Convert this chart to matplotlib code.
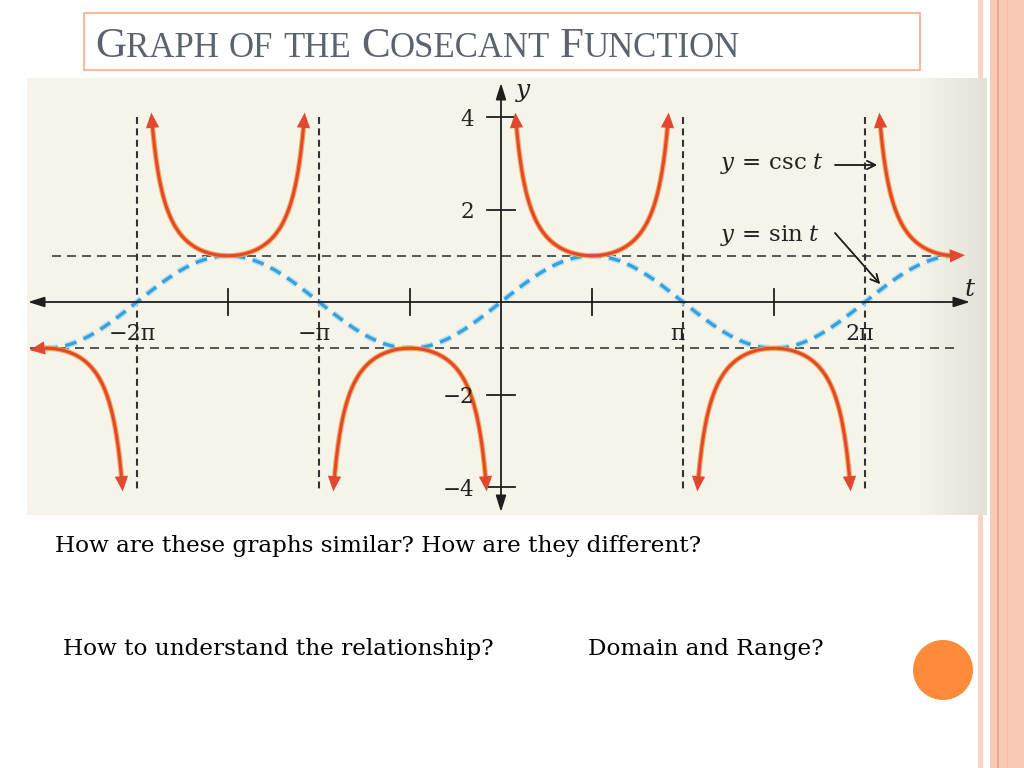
"""Slide: graph of the cosecant function drawn over the sine curve."""

import matplotlib

matplotlib.use("Agg")
import matplotlib.pyplot as plt
import numpy as np
from matplotlib.patches import Circle, Rectangle

plt.rcParams["font.family"] = ["Liberation Serif", "DejaVu Serif"]
plt.rcParams["mathtext.fontset"] = "dejavuserif"
plt.rcParams["lines.scale_dashes"] = False

# ---- chart data (t given in multiples of pi) ----
csc_branches = [(-2.59, -2.0), (-2.0, -1.0), (-1.0, 0.0), (0.0, 1.0), (1.0, 2.0), (2.0, 2.55)]
csc_limit = 4.1
sin_span = (-2.5, 2.5)
asymptotes = [-2, -1, 1, 2]
half_ticks = [-1.5, -0.5, 0.5, 1.5]
pi_labels = ["−2π", "−π", "π", "2π"]
y_ticks = [4, 2, -2, -4]
y_tick_labels = ["4", "2", "−2", "−4"]
title_text = "Graph of the Cosecant Function"
questions = [
    "How are these graphs similar? How are they different?",
    "How to understand the relationship?",
    "Domain and Range?",
]

# ---- layout of the scanned graph on the slide (pixels) ----
ORIGIN_X, ORIGIN_Y = 501, 302
PI_PX, UNIT_PX = 182.0, 46.25
IMG_L, IMG_T, IMG_R, IMG_B = 27, 78, 987, 515

RED = "#e2482f"
RED_GLOW = "#f6a03e"
BLUE = "#3b9fd8"
BLUE_GLOW = "#b5e3f5"
INK = "#1e1e1e"
SERIF = ["DejaVu Serif"]


def tx(px):
    return (px - ORIGIN_X) / PI_PX * np.pi


def ty(py):
    return (ORIGIN_Y - py) / UNIT_PX


def main() -> None:
    fig = plt.figure(figsize=(10.24, 7.68), dpi=100)
    fig.patch.set_facecolor("white")

    bg = fig.add_axes([0, 0, 1, 1])
    bg.set_xlim(0, 1024)
    bg.set_ylim(768, 0)
    bg.axis("off")

    # right-hand stripes
    bg.add_patch(Rectangle((978, 0), 5, 768, color="#fbd3c3", lw=0))
    bg.add_patch(Rectangle((990, 0), 34, 768, color="#fac9b5", lw=0))
    bg.add_patch(Rectangle((997, 0), 1.5, 768, color="#eda88b", lw=0))
    bg.add_patch(Rectangle((1007, 0), 1, 768, color="#f5bba3", lw=0))

    # paper background of the graph
    shade = np.ones((1, 200, 3))
    cream = np.array([246, 244, 233]) / 255
    grey = np.array([228, 226, 216]) / 255
    mix = np.clip((np.arange(200) - 185) / 14, 0, 1)[:, None]
    shade[0] = cream * (1 - mix) + grey * mix
    bg.imshow(shade, extent=(IMG_L, IMG_R, IMG_B, IMG_T), aspect="auto", zorder=1)

    # title box with small caps
    bg.add_patch(Rectangle((84, 13), 836, 57, facecolor="white", edgecolor="#f3b592", lw=1.3, zorder=2))
    renderer = fig.canvas.get_renderer()
    x = 95
    for word in title_text.split():
        pieces = [(word[0], 31), (word[1:].upper(), 25)] if word[0].isupper() else [(word.upper(), 25)]
        for piece, size in pieces:
            txt = bg.text(x, 57, piece, fontsize=size, color="#5b636e", va="baseline", ha="left", zorder=3)
            x = txt.get_window_extent(renderer).x1
        x += 10

    # questions
    bg.text(55, 552, questions[0], fontsize=16.7, family=SERIF, color="black", va="baseline")
    bg.text(63, 655, questions[1], fontsize=16.7, family=SERIF, color="black", va="baseline")
    bg.text(588, 655, questions[2], fontsize=16.7, family=SERIF, color="black", va="baseline")

    bg.add_patch(Circle((943, 670), 30, color="#fd8b3b", lw=0))

    # ---- the graph itself ----
    ax = fig.add_axes([IMG_L / 1024, 1 - IMG_B / 768, (IMG_R - IMG_L) / 1024, (IMG_B - IMG_T) / 768])
    ax.set_xlim(tx(IMG_L), tx(IMG_R))
    ax.set_ylim(ty(IMG_B), ty(IMG_T))
    ax.axis("off")

    # guide lines y = +-1 and asymptotes
    ax.plot([tx(52), tx(963)], [1, 1], color="#2a2a2a", lw=1.1, dashes=(6.5, 4.3))
    ax.plot([tx(30), tx(957)], [-1, -1], color="#2a2a2a", lw=1.1, dashes=(6.5, 4.3))
    for k in asymptotes:
        ax.plot([k * np.pi] * 2, [ty(117), ty(492)], color="#333333", lw=1.5, dashes=(5.0, 3.2))

    # axes with arrows
    axis_arrow = dict(arrowstyle="<|-|>,head_length=0.7,head_width=0.22", color=INK, lw=1.3,
                      shrinkA=0, shrinkB=0, mutation_scale=14)
    ax.annotate("", xy=(tx(970), 0), xytext=(tx(28), 0), arrowprops=axis_arrow)
    ax.annotate("", xy=(0, ty(83)), xytext=(0, ty(512)), arrowprops=axis_arrow)
    for k in half_ticks:
        ax.plot([k * np.pi] * 2, [ty(289), ty(315)], color=INK, lw=1.3)
    for v, lbl in zip(y_ticks, y_tick_labels):
        ax.plot([tx(487), tx(515)], [v, v], color=INK, lw=1.3)
        ax.text(tx(474), v, lbl, fontsize=15.5, family=SERIF, ha="right", va="center_baseline", color="#222222")
    for k, lbl in zip(asymptotes, pi_labels):
        ax.text(k * np.pi + tx(ORIGIN_X - 5), ty(331), lbl, fontsize=16, family=SERIF, ha="center",
                va="center_baseline", color="#222222")
    ax.text(tx(523), ty(90), "y", fontsize=18, family=SERIF, style="italic", ha="center", va="center",
            color="#222222")
    ax.text(tx(970), ty(289), "t", fontsize=18, family=SERIF, style="italic", ha="center", va="center",
            color="#222222")

    # sine curve
    t = np.linspace(sin_span[0] * np.pi, sin_span[1] * np.pi, 1200)
    ax.plot(t, np.sin(t), color=BLUE_GLOW, lw=4.6, dashes=(8.5, 5.5), solid_capstyle="butt")
    ax.plot(t, np.sin(t), color=BLUE, lw=2.4, dashes=(8.5, 5.5))

    # cosecant branches with arrow tips
    head = dict(arrowstyle="-|>,head_length=0.55,head_width=0.24", color=RED, lw=0,
                shrinkA=0, shrinkB=0, mutation_scale=20)
    for a, b in csc_branches:
        t = np.linspace(a * np.pi, b * np.pi, 4000)[1:-1]
        y = 1 / np.sin(t)
        keep = np.abs(y) <= csc_limit
        t, y = t[keep], y[keep]
        seg = np.hypot(np.diff(t) / np.pi * PI_PX, np.diff(y) * UNIT_PX)
        s = np.concatenate([[0], np.cumsum(seg)])
        total = s[-1]
        body = (s >= 6) & (s <= total - 6)
        ax.plot(t[body], y[body], color=RED_GLOW, lw=3.8, solid_capstyle="butt", alpha=0.85)
        ax.plot(t[body], y[body], color=RED, lw=2.2, solid_capstyle="butt")
        for tip, back in [(0, np.searchsorted(s, 12)), (len(t) - 1, np.searchsorted(s, total - 12))]:
            ax.annotate("", xy=(t[tip], y[tip]), xytext=(t[back], y[back]), arrowprops=head)

    # curve captions
    bg.text(720, 163, r"$y\,=\,\mathrm{csc}\;t$", fontsize=16.5, ha="left", va="center", color="#222222", zorder=5)
    bg.text(720, 236, r"$y\,=\,\mathrm{sin}\;t$", fontsize=16.5, ha="left", va="center", color="#222222", zorder=5)
    thin = dict(arrowstyle="->,head_length=0.5,head_width=0.25", color="#222222", lw=1.1,
                shrinkA=0, shrinkB=0, mutation_scale=12)
    fig.add_artist(bg.annotate("", xy=(877, 165), xytext=(835, 165), arrowprops=thin, zorder=6))
    fig.add_artist(bg.annotate("", xy=(880, 284), xytext=(835, 233), arrowprops=thin, zorder=6))

    fig.savefig("out.png", dpi=100)
    plt.close(fig)


if __name__ == "__main__":
    main()
